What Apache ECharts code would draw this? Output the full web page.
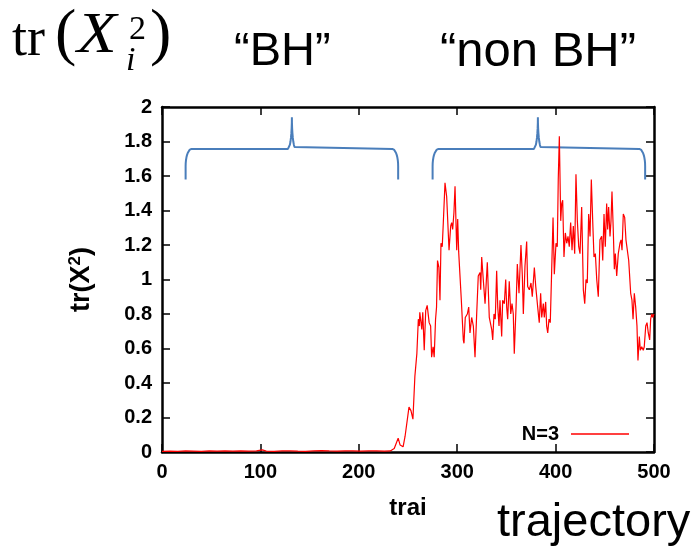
<!DOCTYPE html>
<html>
<head>
<meta charset="utf-8">
<script src="https://cdn.jsdelivr.net/npm/echarts@6/dist/echarts.min.js"></script>
<style>
html, body { margin: 0; padding: 0; background: #ffffff; }
#chart { width: 698px; height: 549px; }
</style>
</head>
<body>
<div id="chart"></div>
<script>
// Trajectory index (x) and tr(X^2) value (y), N=3 run
const trajSteps = [
  0, 8, 16, 24, 32, 40, 48, 56, 64, 72, 80, 88, 96, 102, 106, 114, 122, 130, 138, 146,
  154, 162, 170, 178, 186, 194, 202, 210, 218, 226, 232,
  236, 238, 240, 242, 245, 247, 249, 251, 253, 255, 257, 259, 260.5, 261.5, 262, 264, 265, 266.5, 268,
  269.5, 271.5, 273, 274, 275.5, 276.6, 278, 279, 280, 281.4, 282.5, 283.5, 284.8, 285.9, 287.6, 289.3,
  291.7, 293.4, 294.4, 295.4, 296.7, 297.8, 298.8, 299.5, 300.5, 301.5, 302.8, 304.2, 306.2, 306.9, 308.2,
  310.3, 311.7, 313, 314.7, 316.4, 318.1, 319.8, 321.4, 323.2, 323.9, 324.9, 326.5, 328.3, 329.3, 330.6,
  331.6, 332.6, 333.3, 335.1, 336.1, 337.4, 338.7, 340.1, 341.2, 342.5, 343.5, 345.2, 346.2, 347.9, 349.3,
  350.3, 351.3, 352.9, 354.4, 355.7, 357, 358, 359.8, 361.1, 362.8, 364.8, 366.2, 367.2, 368.9, 370.6,
  371.6, 373.3, 375, 376.3, 378.4, 379.8, 381.8, 383.4, 384.8, 385.9, 387.5, 388.5, 389.9, 390.9, 392,
  393.3, 394.6, 396, 397.4, 398.7, 400.4, 401.7, 402.7, 403.8, 405.2, 406.2, 407.2, 408.5, 409.9, 411.3,
  412.6, 413.9, 415.3, 416.7, 418, 419.4, 420.7, 422.1, 423.5, 424.8, 426.5, 428.2, 429.6, 430.9, 432.2,
  433.6, 435, 436.3, 437.7, 439, 440.4, 441.8, 443.4, 445.1, 446.8, 447.9, 449.2, 450.5, 451.9, 452.9,
  453.9, 455.3, 456.3, 457.3, 458.6, 459.7, 460.7, 462.1, 463.7, 465.4, 466.5, 467.5, 468.8, 470.2, 471.5,
  472.9, 474.3, 476.3, 477.6, 478.7, 480, 481.4, 482.7, 483.7, 485.1, 486.1, 487.5, 489.1, 490.1, 491.6,
  492.9, 494.2, 495.6, 496.6, 497.7, 498.7, 500
];
const trajValues = [
  0.004, 0.005, 0.004, 0.006, 0.005, 0.004, 0.006, 0.005, 0.007, 0.005, 0.006, 0.005, 0.006, 0.012, 0.005, 0.004, 0.006, 0.007, 0.005, 0.004,
  0.006, 0.008, 0.006, 0.005, 0.007, 0.006, 0.005, 0.007, 0.006, 0.005, 0.006,
  0.02, 0.03, 0.08, 0.04, 0.03, 0.09, 0.10, 0.26, 0.24, 0.19, 0.44, 0.57, 0.77, 0.73, 0.81, 0.71, 0.81, 0.59, 0.82,
  0.85, 0.75, 0.73, 0.55, 0.61, 0.55, 0.77, 0.84, 1.11, 1.07, 0.88, 1.21, 1.19, 1.33, 1.56, 1.48,
  1.17, 1.31, 1.33, 1.29, 1.39, 1.54, 1.55, 1.17, 1.35, 1.16, 1.15, 0.88, 0.65, 0.63, 0.78,
  0.80, 0.84, 0.69, 0.78, 0.73, 0.55, 0.80, 1.02, 1.04, 0.94, 1.13, 1.00, 0.86, 0.96, 1.10,
  0.94, 0.78, 0.77, 0.71, 0.65, 0.80, 0.77, 1.05, 0.84, 0.73, 0.88, 0.67, 0.88, 0.86, 1.00,
  0.84, 0.77, 0.99, 0.80, 0.86, 0.80, 0.57, 0.84, 1.09, 0.92, 1.20, 1.02, 0.80, 1.08, 1.22,
  0.96, 0.94, 0.98, 0.90, 1.07, 0.96, 0.84, 0.75, 0.92, 0.78, 0.86, 0.78, 0.87, 0.73, 0.69,
  0.77, 0.75, 1.05, 1.36, 1.03, 1.21, 1.19, 1.58, 1.83, 1.34, 1.44, 1.46, 1.13, 1.27, 1.21,
  1.25, 1.19, 1.33, 1.17, 1.31, 1.15, 1.61, 1.34, 1.19, 1.15, 1.42, 0.94, 0.86, 1.00, 0.98,
  1.38, 1.25, 1.58, 1.34, 1.13, 1.15, 1.00, 0.90, 1.23, 1.25, 1.11, 1.38, 1.19, 1.44, 1.29,
  1.42, 1.25, 1.34, 1.51, 1.29, 1.06, 1.15, 1.02, 1.15, 1.21, 1.23, 1.17, 1.38, 1.36, 1.23,
  1.23, 1.11, 0.92, 0.88, 0.77, 0.92, 0.84, 0.73, 0.53, 0.67, 0.59, 0.61, 0.59, 0.61, 0.73,
  0.75, 0.69, 0.65, 0.77, 0.80, 0.78, 0.80
];

// Axis tick settings
const xTicks = [0, 100, 200, 300, 400, 500];
const yTicks = [0, 0.2, 0.4, 0.6, 0.8, 1, 1.2, 1.4, 1.6, 1.8, 2];

// Curly braces marking the two regimes (data units)
const braces = [
  { from: 24, mid: 132, to: 240, low: 1.58, level: 1.757, peak: 1.94 },
  { from: 275, mid: 382, to: 491, low: 1.58, level: 1.757, peak: 1.94 }
];

function bracePath(b) {
  const a = 6, bh = 0.1, c = 4;
  const pts = [[b.from, b.low]];
  const rad = d => d * Math.PI / 180;
  for (let d = 0; d <= 90; d += 10) pts.push([b.from + a - a * Math.cos(rad(d)), b.level - bh + bh * Math.sin(rad(d))]);
  for (let d = 0; d <= 90; d += 10) pts.push([b.mid - c + c * Math.sin(rad(d)), b.level + (b.peak - b.level) * (1 - Math.cos(rad(d)))]);
  for (let d = 90; d >= 0; d -= 10) pts.push([b.mid + c - c * Math.sin(rad(d)), b.level + (b.peak - b.level) * (1 - Math.cos(rad(d)))]);
  for (let d = 90; d >= 0; d -= 10) pts.push([b.to - a + a * Math.cos(rad(d)), b.level - bh + bh * Math.sin(rad(d))]);
  pts.push([b.to, b.low]);
  return pts;
}

const seriesData = trajSteps.map((t, i) => [t, trajValues[i]]);
const axisFont = { color: '#000', fontFamily: 'Liberation Sans', fontWeight: 'bold', fontSize: 20 };
const frame = { show: true, onZero: false, lineStyle: { color: '#000', width: 2.5 } };
const tick = { show: true, inside: true, length: 8, lineStyle: { color: '#000', width: 1.5 } };

const chart = echarts.init(document.getElementById('chart'), null, { renderer: 'canvas' });
chart.setOption({
  animation: false,
  backgroundColor: '#ffffff',
  grid: { left: 162, right: 44, top: 107, bottom: 97 },
  legend: {
    data: [{ name: 'N=3', icon: 'rect' }],
    right: 64, top: 419,
    align: 'right',
    itemWidth: 58, itemHeight: 1.5,
    textStyle: { color: '#000', fontFamily: 'Liberation Sans', fontWeight: 'bold', fontSize: 20, padding: [0, 7, 0, 0] }
  },
  xAxis: [
    {
      type: 'value', min: 0, max: 500, interval: 100,
      name: 'trai', nameLocation: 'middle', nameGap: 44,
      nameTextStyle: { color: '#000', fontFamily: 'Liberation Sans', fontWeight: 'bold', fontSize: 24 },
      axisLine: frame, axisTick: tick, splitLine: { show: false },
      axisLabel: Object.assign({ margin: 10 }, axisFont)
    },
    {
      type: 'value', min: 0, max: 500, interval: 100, position: 'top',
      axisLine: frame, axisTick: tick, splitLine: { show: false }, axisLabel: { show: false }
    }
  ],
  yAxis: [
    {
      type: 'value', min: 0, max: 2, interval: 0.2,
      name: '{a|tr(X}{s|2}{a|)}', nameLocation: 'middle', nameGap: 65, nameRotate: 90,
      nameTextStyle: {
        rich: {
          a: { color: '#000', fontFamily: 'Liberation Sans', fontWeight: 'bold', fontSize: 27 },
          s: { color: '#000', fontFamily: 'Liberation Sans', fontWeight: 'bold', fontSize: 17, verticalAlign: 'top', padding: [0, 0, 13, 0] }
        }
      },
      axisLine: frame, axisTick: tick, splitLine: { show: false },
      axisLabel: Object.assign({ margin: 10 }, axisFont)
    },
    {
      type: 'value', min: 0, max: 2, interval: 0.2, position: 'right',
      axisLine: frame, axisTick: tick, splitLine: { show: false }, axisLabel: { show: false }
    }
  ],
  series: [
    {
      name: 'N=3', type: 'line', data: seriesData,
      symbol: 'none', lineStyle: { color: '#ff0000', width: 1.2 }, itemStyle: { color: '#ff0000' },
      z: 3
    }
  ].concat(braces.map((b, i) => ({
    name: 'brace' + i, type: 'line', data: bracePath(b), symbol: 'none', silent: true,
    lineStyle: { color: '#4a7ebb', width: 2 }, z: 2
  }))),
  graphic: [
    { type: 'text', left: 12, top: 14, style: { text: 'tr', font: '54px "Liberation Serif"', fill: '#000' } },
    { type: 'text', left: 55, top: 4, style: { text: '(', font: '64px "Liberation Serif"', fill: '#000' } },
    { type: 'text', x: 77, y: 8, scaleX: 1.12, style: { text: 'X', font: 'italic 58px "Liberation Serif"', fill: '#000' } },
    { type: 'text', left: 129, top: 13, style: { text: '2', font: '34px "Liberation Serif"', fill: '#000' } },
    { type: 'text', left: 126, top: 44, style: { text: 'i', font: 'italic 34px "Liberation Serif"', fill: '#000' } },
    { type: 'text', left: 150, top: 4, style: { text: ')', font: '64px "Liberation Serif"', fill: '#000' } },
    { type: 'text', left: 234, top: 29, style: { text: '\u201cBH\u201d', font: '47px "Liberation Sans"', fill: '#000' } },
    { type: 'text', left: 440, top: 28, style: { text: '\u201cnon BH\u201d', font: '49px "Liberation Sans"', fill: '#000' } },
    { type: 'text', left: 497, top: 500, style: { text: 'trajectory', font: '47px "Liberation Sans"', fill: '#000' } }
  ]
});
</script>
</body>
</html>
